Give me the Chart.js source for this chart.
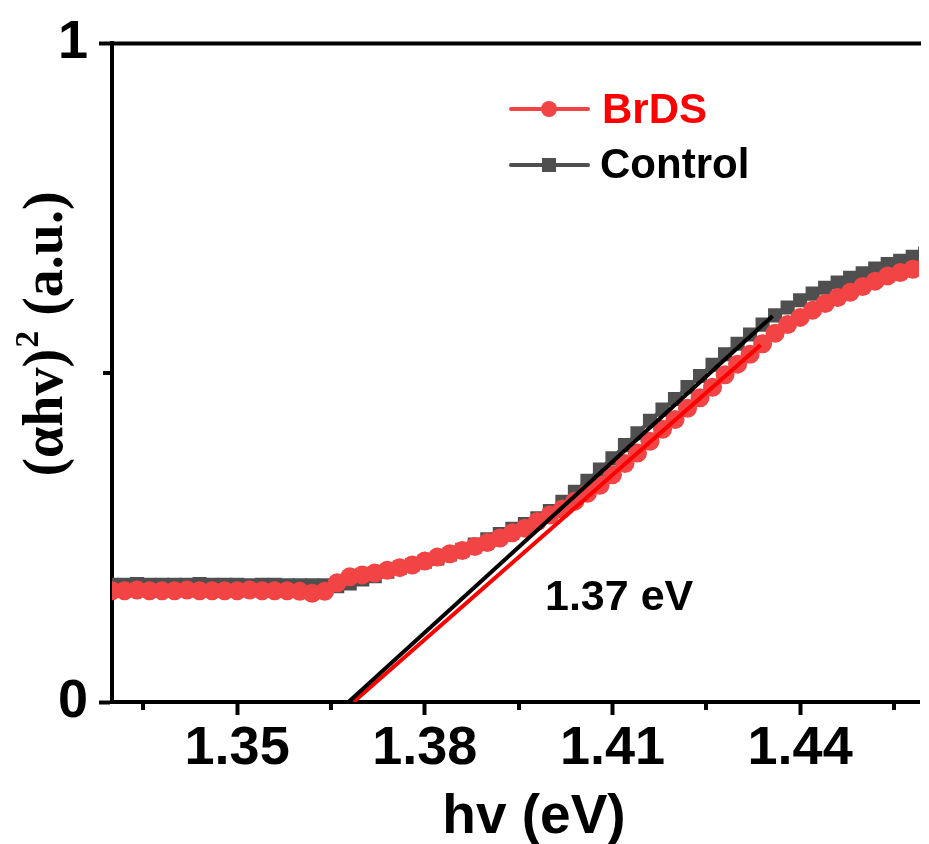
<!DOCTYPE html>
<html>
<head>
<meta charset="utf-8">
<script src="https://cdn.jsdelivr.net/npm/chart.js@4.4.1/dist/chart.umd.min.js"></script>
<style>
html, body { margin: 0; padding: 0; background: #fff; overflow: hidden; }
canvas { display: block; }
</style>
</head>
<body>
<canvas id="chart" width="929" height="844"></canvas>
<script>
// photon energy (eV)
const hv = [
  1.330, 1.332, 1.334, 1.336, 1.338, 1.340, 1.342, 1.344, 1.346, 1.348,
  1.350, 1.352, 1.354, 1.356, 1.358, 1.360, 1.362, 1.364, 1.366, 1.368,
  1.370, 1.372, 1.374, 1.376, 1.378, 1.380, 1.382, 1.384, 1.386, 1.388,
  1.390, 1.392, 1.394, 1.396, 1.398, 1.400, 1.402, 1.404, 1.406, 1.408,
  1.410, 1.412, 1.414, 1.416, 1.418, 1.420, 1.422, 1.424, 1.426, 1.428,
  1.430, 1.432, 1.434, 1.436, 1.438, 1.440, 1.442, 1.444, 1.446, 1.448,
  1.450, 1.452, 1.454, 1.456, 1.458, 1.460
];

const brds = [
  0.169, 0.169, 0.170, 0.169, 0.169, 0.169, 0.170, 0.169, 0.169, 0.169,
  0.169, 0.170, 0.169, 0.169, 0.169, 0.168, 0.165, 0.168, 0.181, 0.190,
  0.193, 0.196, 0.200, 0.204, 0.208, 0.214, 0.220, 0.225, 0.230, 0.236,
  0.242, 0.249, 0.257, 0.264, 0.274, 0.284, 0.293, 0.305, 0.317, 0.329,
  0.345, 0.362, 0.378, 0.396, 0.414, 0.429, 0.446, 0.462, 0.478, 0.497,
  0.513, 0.528, 0.544, 0.560, 0.573, 0.584, 0.595, 0.605, 0.614, 0.622,
  0.631, 0.639, 0.647, 0.652, 0.657, 0.661
];

const control = [
  0.178, 0.178, 0.179, 0.178, 0.178, 0.178, 0.178, 0.179, 0.178, 0.178,
  0.178, 0.177, 0.178, 0.178, 0.177, 0.177, 0.177, 0.177, 0.176, 0.180,
  0.186, 0.191, 0.198, 0.204, 0.208, 0.213, 0.218, 0.224, 0.231, 0.239,
  0.247, 0.255, 0.263, 0.270, 0.279, 0.290, 0.304, 0.319, 0.336, 0.353,
  0.370, 0.390, 0.408, 0.427, 0.444, 0.460, 0.478, 0.495, 0.512, 0.528,
  0.544, 0.558, 0.573, 0.587, 0.599, 0.610, 0.620, 0.629, 0.637, 0.644,
  0.651, 0.658, 0.665, 0.670, 0.676, 0.681
];

// linear fits of the absorption edge
const fitControlX = [1.3678, 1.4356];
const fitControlY = [0, 0.586];
const fitBrdsX = [1.3686, 1.4337];
const fitBrdsY = [0, 0.542];

const xMajor = [1.35, 1.38, 1.41, 1.44];
const xMinor = [1.335, 1.365, 1.395, 1.425, 1.455];
const yMajor = [0, 1];
const yMinor = [0.5];

const RED = '#F24444';
const GREY = '#4F4F4F';
const SANS = '"Liberation Sans", Arial, sans-serif';
const SERIF = '"Liberation Serif", "Times New Roman", serif';

const isIn = (v, list) => list.some(m => Math.abs(m - v) < 1e-6);
const toPts = (xs, ys) => xs.map((x, i) => ({ x, y: ys[i] }));

const decor = {
  id: 'decor',
  afterDraw(chart) {
    const { ctx, chartArea: a, scales: { x, y } } = chart;
    ctx.save();
    ctx.strokeStyle = '#000';
    ctx.lineWidth = 4;
    // top frame line
    ctx.beginPath();
    ctx.moveTo(a.left - 2, a.top);
    ctx.lineTo(a.right + 2, a.top);
    ctx.stroke();
    // minor ticks
    xMinor.forEach(v => {
      const px = Math.round(x.getPixelForValue(v));
      ctx.beginPath();
      ctx.moveTo(px, a.bottom + 2);
      ctx.lineTo(px, a.bottom + 8);
      ctx.stroke();
    });
    yMinor.forEach(v => {
      const py = Math.round(y.getPixelForValue(v));
      ctx.beginPath();
      ctx.moveTo(a.left - 2, py);
      ctx.lineTo(a.left - 9, py);
      ctx.stroke();
    });

    ctx.fillStyle = '#000';
    ctx.textBaseline = 'alphabetic';
    // x title
    ctx.font = 'bold 55px ' + SANS;
    ctx.textAlign = 'center';
    ctx.fillText('hv (eV)', 534, 833);

    // y title, rotated
    ctx.save();
    ctx.translate(62, 335);
    ctx.rotate(-Math.PI / 2);
    ctx.textAlign = 'left';
    const big = 'bold 56px ' + SERIF;
    const small = 'bold 34px ' + SERIF;
    ctx.font = big;
    const w1 = ctx.measureText('(\u03B1hv)').width;
    const w3 = ctx.measureText(' (a.u.)').width;
    ctx.font = small;
    const w2 = ctx.measureText('2').width;
    let sx = -(w1 + w2 + w3) / 2;
    ctx.font = big;
    ctx.fillText('(\u03B1hv)', sx, 0);
    ctx.font = small;
    ctx.fillText('2', sx + w1 + 1, -24);
    ctx.font = big;
    ctx.fillText(' (a.u.)', sx + w1 + w2 + 2, 0);
    ctx.restore();

    // legend
    ctx.lineWidth = 4;
    ctx.lineCap = 'round';
    ctx.strokeStyle = RED;
    ctx.beginPath(); ctx.moveTo(511, 109); ctx.lineTo(588, 109); ctx.stroke();
    ctx.fillStyle = RED;
    ctx.beginPath(); ctx.arc(549, 109, 8, 0, Math.PI * 2); ctx.fill();
    ctx.strokeStyle = GREY;
    ctx.beginPath(); ctx.moveTo(511, 165); ctx.lineTo(588, 165); ctx.stroke();
    ctx.fillStyle = GREY;
    ctx.fillRect(542, 158, 14, 14);

    ctx.font = 'bold 42px ' + SANS;
    ctx.textAlign = 'left';
    ctx.fillStyle = '#FF0000';
    ctx.fillText('BrDS', 602, 123);
    ctx.fillStyle = '#000';
    ctx.fillText('Control', 600, 178);

    // band gap annotation
    ctx.font = 'bold 43px ' + SANS;
    ctx.fillText('1.37 eV', 545, 610);
    ctx.restore();
  }
};

new Chart(document.getElementById('chart'), {
  type: 'line',
  data: {
    datasets: [
      {
        label: 'fit Control',
        data: toPts(fitControlX, fitControlY),
        borderColor: '#000',
        borderWidth: 4,
        pointRadius: 0
      },
      {
        label: 'fit BrDS',
        data: toPts(fitBrdsX, fitBrdsY),
        borderColor: '#FF0000',
        borderWidth: 4,
        pointRadius: 0
      },
      {
        label: 'BrDS',
        data: toPts(hv, brds),
        borderColor: RED,
        borderWidth: 4,
        pointStyle: 'circle',
        pointRadius: 9.5,
        pointBorderWidth: 0,
        pointBackgroundColor: RED
      },
      {
        label: 'Control',
        data: toPts(hv, control),
        borderColor: GREY,
        borderWidth: 4,
        pointStyle: 'rect',
        pointRadius: 10,
        pointBorderWidth: 0,
        pointBackgroundColor: GREY
      }
    ]
  },
  options: {
    responsive: false,
    animation: false,
    devicePixelRatio: 1,
    layout: { padding: { top: 40, right: 0, left: 0, bottom: 0 } },
    plugins: { legend: { display: false }, tooltip: { enabled: false } },
    scales: {
      x: {
        type: 'linear',
        min: 1.33,
        max: 1.459,
        afterBuildTicks: s => { s.ticks = [...xMinor, ...xMajor].sort((p, q) => p - q).map(v => ({ value: v })); },
        afterFit: s => { s.height = 142; },
        grid: {
          drawOnChartArea: false,
          tickLength: 13,
          tickWidth: 4,
          tickColor: c => isIn(c.tick.value, xMajor) ? '#000' : 'rgba(0,0,0,0)'
        },
        border: { display: true, width: 4, color: '#000' },
        ticks: {
          autoSkip: false,
          maxRotation: 0,
          padding: 2,
          color: '#000',
          font: { family: SANS, size: 54, weight: 'bold' },
          callback: v => isIn(v, xMajor) ? v.toFixed(2) : ''
        }
      },
      y: {
        min: 0,
        max: 1,
        afterBuildTicks: s => { s.ticks = [...yMajor, ...yMinor].sort((p, q) => p - q).map(v => ({ value: v })); },
        afterFit: s => { s.width = 112; },
        grid: {
          drawOnChartArea: false,
          tickLength: 13,
          tickWidth: 4,
          tickColor: c => isIn(c.tick.value, yMajor) ? '#000' : 'rgba(0,0,0,0)'
        },
        border: { display: true, width: 4, color: '#000' },
        ticks: {
          autoSkip: false,
          padding: 11,
          color: '#000',
          font: { family: SANS, size: 54, weight: 'bold' },
          callback: v => isIn(v, yMajor) ? String(v) : ''
        }
      }
    }
  },
  plugins: [decor]
});
</script>
</body>
</html>
